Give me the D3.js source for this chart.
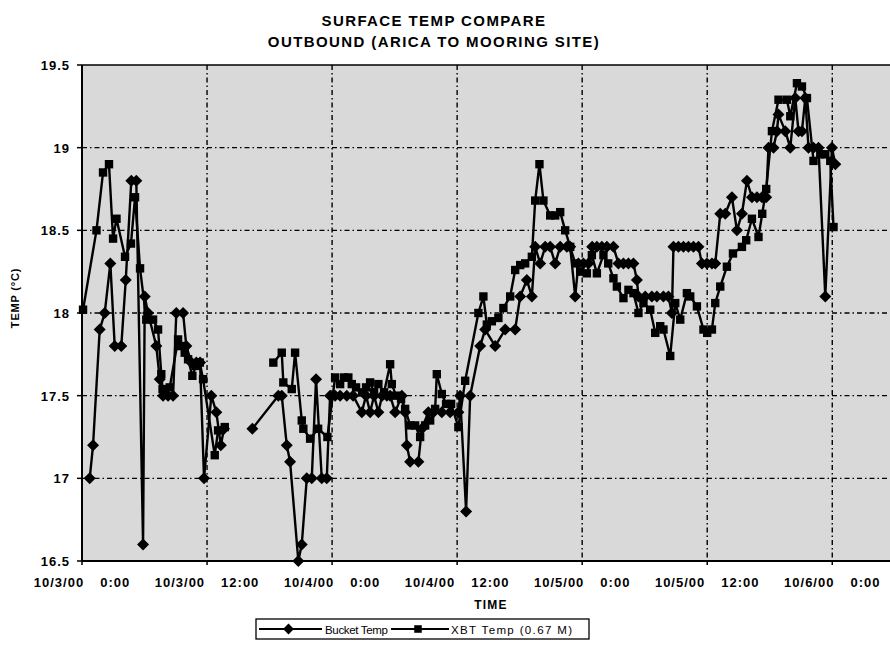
<!DOCTYPE html>
<html>
<head>
<meta charset="utf-8">
<script src="https://d3js.org/d3.v7.min.js"></script>
<style>
  body { margin: 0; background: #fff; }
  text { font-family: "Liberation Sans", Arial, sans-serif; fill: #000; }
</style>
</head>
<body>
<div id="chart"></div>
<script>
// hours after 10/3/00 0:00, null temp = no reading (line breaks)
var bucketHours = [0.74,1.06,1.70,2.18,2.72,3.14,3.77,4.20,4.73,5.21,
  5.86,6.02,6.34,7.13,7.46,7.78,8.26,8.74,9.05,9.70,
  10.01,10.49,10.97,11.33,11.71,12.41,12.89,13.32,13.63,15.0,
  16.35,18.84,19.17,19.65,19.97,20.76,21.09,21.57,22.05,22.46,
  23.01,23.49,23.81,24.29,24.77,25.41,26.02,26.85,27.26,27.65,
  28.03,28.44,28.80,29.25,29.57,30.05,30.69,31.01,31.17,31.49,
  32.28,32.61,33.24,33.72,34.53,35.33,36.12,36.29,36.86,37.25,
  38.21,38.69,39.65,40.61,41.57,42.05,42.69,43.17,43.49,43.97,
  44.45,44.93,45.41,45.89,46.53,46.85,47.33,47.64,48.12,48.60,
  48.96,49.41,49.89,50.37,51.00,51.48,51.96,52.44,52.92,53.25,
  53.40,54.05,54.69,55.17,55.80,56.28,56.61,56.76,57.24,57.72,
  58.20,58.68,59.16,59.49,59.97,60.45,60.77,61.25,61.73,62.37,
  62.85,63.33,63.81,64.29,64.77,65.25,65.66,65.88,66.36,66.69,
  66.84,67.49,67.97,68.45,68.76,69.09,69.41,69.72,70.20,70.68,
  71.33,71.97,72.29]
var bucketTemp = [17.0,17.2,17.9,18.0,18.3,17.8,17.8,18.2,18.8,18.8,
  16.6,18.1,18.0,17.8,17.6,17.5,17.5,17.5,18.0,18.0,
  17.8,17.7,17.7,17.7,17.0,17.5,17.4,17.2,17.3,null,
  17.3,17.5,17.5,17.2,17.1,16.5,16.6,17.0,17.0,17.6,
  17.0,17.0,17.5,17.5,17.5,17.5,17.5,17.4,17.5,17.4,
  17.5,17.4,17.5,17.5,17.5,17.4,17.5,17.4,17.2,17.1,
  17.1,17.3,17.4,17.4,17.4,17.4,17.4,17.5,16.8,17.5,
  17.8,17.9,17.8,17.9,17.9,18.1,18.2,18.1,18.4,18.3,
  18.4,18.4,18.3,18.4,18.4,18.4,18.1,18.3,18.3,18.3,
  18.4,18.4,18.4,18.4,18.4,18.3,18.3,18.3,18.3,18.2,
  18.1,18.1,18.1,18.1,18.1,18.1,18.0,18.4,18.4,18.4,
  18.4,18.4,18.4,18.3,18.3,18.3,18.3,18.6,18.6,18.7,
  18.5,18.6,18.8,18.7,18.7,18.7,18.7,19.0,19.0,19.1,
  19.2,19.1,19.0,19.3,19.1,19.1,19.3,19.0,19.0,19.0,
  18.1,19.0,18.9]

var xbtHours = [0.10,1.39,2.02,2.59,2.98,3.31,4.13,4.70,5.09,5.57,
  6.17,6.82,7.30,7.61,7.73,8.42,9.22,9.50,9.86,10.18,
  10.59,10.94,11.30,11.62,12.74,13.06,13.70,16.0,18.36,19.17,
  19.32,20.13,20.45,21.09,21.24,21.89,22.66,23.55,24.29,24.77,
  25.15,25.56,25.89,26.30,26.88,27.26,27.65,28.03,28.44,28.99,
  29.57,29.73,30.14,30.62,31.01,31.49,31.97,32.45,32.93,33.41,
  33.89,34.05,34.53,34.94,35.42,36.12,36.77,38.04,38.52,38.85,
  39.33,39.96,40.44,41.09,41.57,42.05,42.53,43.17,43.49,43.90,
  44.28,44.93,45.41,45.89,46.37,46.85,47.33,47.81,48.45,48.93,
  49.41,50.04,50.50,51.00,51.33,51.96,52.44,52.92,53.40,53.88,
  54.53,55.01,55.49,55.80,56.45,56.93,57.41,58.05,58.37,59.01,
  59.64,60.00,60.45,60.77,61.25,61.89,62.47,63.33,63.74,64.29,
  64.92,65.28,65.66,66.21,66.84,67.65,67.97,68.61,69.09,69.57,
  70.20,70.85,71.33,71.81,72.12]
var xbtTemp = [18.02,18.5,18.85,18.9,18.45,18.57,18.34,18.42,18.7,18.27,
  17.96,17.96,17.9,17.63,17.54,17.55,17.84,17.8,17.76,17.72,
  17.62,17.68,17.7,17.6,17.14,17.29,17.31,null,17.7,17.76,
  17.58,17.54,17.76,17.35,17.3,17.24,17.3,17.25,17.61,17.57,
  17.61,17.61,17.57,17.55,17.52,17.55,17.58,17.52,17.57,17.52,
  17.69,17.57,17.5,17.48,17.42,17.32,17.32,17.25,17.32,17.35,
  17.42,17.63,17.51,17.45,17.45,17.31,17.59,18.0,18.1,17.93,
  17.95,17.97,18.03,18.1,18.26,18.29,18.3,18.34,18.68,18.9,
  18.68,18.59,18.59,18.61,18.5,18.4,18.3,18.25,18.24,18.35,
  18.24,18.35,18.3,18.21,18.16,18.09,18.14,18.12,18.0,18.06,
  18.02,17.88,17.92,17.9,17.74,18.06,17.96,18.12,18.1,18.04,
  17.9,17.88,17.9,18.06,18.16,18.28,18.36,18.4,18.44,18.57,
  18.46,18.6,18.75,19.1,19.29,19.29,19.19,19.39,19.37,19.3,
  18.92,18.96,18.96,18.92,18.52]

var yTicks = [16.5, 17, 17.5, 18, 18.5, 19, 19.5]
var xTickHours = [0, 12, 24, 36, 48, 60, 72]
var titleLines = ["SURFACE TEMP COMPARE", "OUTBOUND (ARICA TO MOORING SITE)"]
var seriesNames = ["Bucket Temp", "XBT Temp (0.67 M)"]

var width = 890, height = 645
var plot = {left: 82, right: 900, top: 65, bottom: 561}
var start = new Date(2000, 9, 3, 0, 0)
function toDate(h) { return new Date(start.getTime() + h * 3600000) }

var svg = d3.select("#chart").append("svg")
  .attr("width", width).attr("height", height)

var x = d3.scaleTime()
  .domain([start, toDate(78.5)])
  .range([plot.left, plot.right])
var y = d3.scaleLinear()
  .domain([16.5, 19.5])
  .range([plot.bottom, plot.top])

// grey plot area (stippled in the scanned original)
svg.append("rect")
  .attr("x", plot.left).attr("y", plot.top)
  .attr("width", plot.right - plot.left).attr("height", plot.bottom - plot.top)
  .attr("fill", "#d9d9d9")

// gridlines
var dash = "5,3,1.5,3"
svg.append("g").selectAll("line")
  .data(yTicks.filter(function(d){ return d > 16.5 && d < 19.5 }))
  .enter().append("line")
  .attr("x1", plot.left).attr("x2", plot.right)
  .attr("y1", function(d){ return y(d) }).attr("y2", function(d){ return y(d) })
  .attr("stroke", "#000").attr("stroke-width", 1.4).attr("stroke-dasharray", dash)
svg.append("g").selectAll("line")
  .data(xTickHours.filter(function(d){ return d > 0 }))
  .enter().append("line")
  .attr("x1", function(d){ return x(toDate(d)) }).attr("x2", function(d){ return x(toDate(d)) })
  .attr("y1", plot.top).attr("y2", plot.bottom)
  .attr("stroke", "#000").attr("stroke-width", 1.4).attr("stroke-dasharray", dash)

// frame: left, top, bottom
svg.append("line").attr("x1", plot.left).attr("x2", plot.left)
  .attr("y1", plot.top).attr("y2", plot.bottom + 1)
  .attr("stroke", "#000").attr("stroke-width", 2)
svg.append("line").attr("x1", plot.left).attr("x2", plot.right)
  .attr("y1", plot.top).attr("y2", plot.top)
  .attr("stroke", "#000").attr("stroke-width", 1.5)
svg.append("line").attr("x1", plot.left - 1).attr("x2", plot.right)
  .attr("y1", plot.bottom).attr("y2", plot.bottom)
  .attr("stroke", "#000").attr("stroke-width", 2)

// y ticks and labels
var yAx = svg.append("g")
yAx.selectAll("line").data(yTicks).enter().append("line")
  .attr("x1", plot.left - 5).attr("x2", plot.left)
  .attr("y1", function(d){ return y(d) }).attr("y2", function(d){ return y(d) })
  .attr("stroke", "#000").attr("stroke-width", 1.5)
yAx.selectAll("text").data(yTicks).enter().append("text")
  .attr("x", plot.left - 12).attr("y", function(d){ return y(d) + 5 })
  .attr("text-anchor", "end")
  .style("font-size", "13px").style("font-weight", "bold").style("letter-spacing", "1px")
  .text(function(d){ return d3.format("")(d) })

// x ticks and labels
var fmtDate = d3.timeFormat("%-m/%-d/%y"), fmtTime = d3.timeFormat("%-H:%M")
var xAx = svg.append("g")
xAx.selectAll("line").data(xTickHours).enter().append("line")
  .attr("x1", function(d){ return x(toDate(d)) }).attr("x2", function(d){ return x(toDate(d)) })
  .attr("y1", plot.bottom).attr("y2", plot.bottom + 4)
  .attr("stroke", "#000").attr("stroke-width", 1.5)
var xl = xAx.selectAll("text").data(xTickHours).enter().append("text")
  .attr("x", function(d){ return x(toDate(d)) }).attr("y", 587)
  .attr("text-anchor", "middle")
  .style("font-size", "13px").style("font-weight", "bold").style("letter-spacing", "1px")
xl.append("tspan").text(function(d){ return fmtDate(toDate(d)) })
xl.append("tspan").attr("dx", 16).text(function(d){ return fmtTime(toDate(d)) })

// titles
svg.selectAll(".title").data(titleLines).enter().append("text")
  .attr("x", 434).attr("y", function(d, i){ return 26 + i * 21 })
  .attr("text-anchor", "middle")
  .style("font-size", "15px").style("font-weight", "bold").style("letter-spacing", "1.4px")
  .text(function(d){ return d })
svg.append("text")
  .attr("x", 491).attr("y", 609).attr("text-anchor", "middle")
  .style("font-size", "12px").style("font-weight", "bold").style("letter-spacing", "1.2px")
  .text("TIME")
svg.append("text")
  .attr("transform", "translate(19,298) rotate(-90)").attr("text-anchor", "middle")
  .style("font-size", "11px").style("font-weight", "bold").style("letter-spacing", "0.8px")
  .text("TEMP (°C)")

// series
function pairs(hs, vs) { return hs.map(function(h, i){ return {t: toDate(h), v: vs[i]} }) }
var bucket = pairs(bucketHours, bucketTemp)
var xbt = pairs(xbtHours, xbtTemp)

var line = d3.line()
  .defined(function(d){ return d.v != null })
  .x(function(d){ return x(d.t) })
  .y(function(d){ return y(d.v) })

var diamond = "M0,-6L6,0L0,6L-6,0Z"
var square = "M-4.2,-4.2H4.2V4.2H-4.2Z"

function drawSeries(data, shape) {
  svg.append("path").datum(data)
    .attr("d", line).attr("fill", "none")
    .attr("stroke", "#000").attr("stroke-width", 2.4).attr("stroke-linejoin", "round")
  svg.append("g").selectAll("path")
    .data(data.filter(function(d){ return d.v != null }))
    .enter().append("path")
    .attr("d", shape)
    .attr("transform", function(d){ return "translate(" + x(d.t) + "," + y(d.v) + ")" })
    .attr("fill", "#000")
}
drawSeries(xbt, square)
drawSeries(bucket, diamond)

// legend
var lg = svg.append("g")
lg.append("rect").attr("x", 256).attr("y", 619).attr("width", 333).attr("height", 20)
  .attr("fill", "#fff").attr("stroke", "#000").attr("stroke-width", 1.3)
var items = [{name: seriesNames[0], shape: diamond, x0: 259, x1: 322, tx: 325, w: 63},
             {name: seriesNames[1], shape: square, x0: 391, x1: 449, tx: 451, w: 121}]
items.forEach(function(it) {
  lg.append("line").attr("x1", it.x0).attr("x2", it.x1).attr("y1", 629).attr("y2", 629)
    .attr("stroke", "#000").attr("stroke-width", 2.2)
  lg.append("path").attr("d", it.shape)
    .attr("transform", "translate(" + ((it.x0 + it.x1) / 2 - 2) + ",629) scale(0.9)").attr("fill", "#000")
  lg.append("text").attr("x", it.tx).attr("y", 633.5)
    .attr("textLength", it.w).attr("lengthAdjust", "spacing")
    .style("font-size", "11.5px").text(it.name)
})
</script>
</body>
</html>
